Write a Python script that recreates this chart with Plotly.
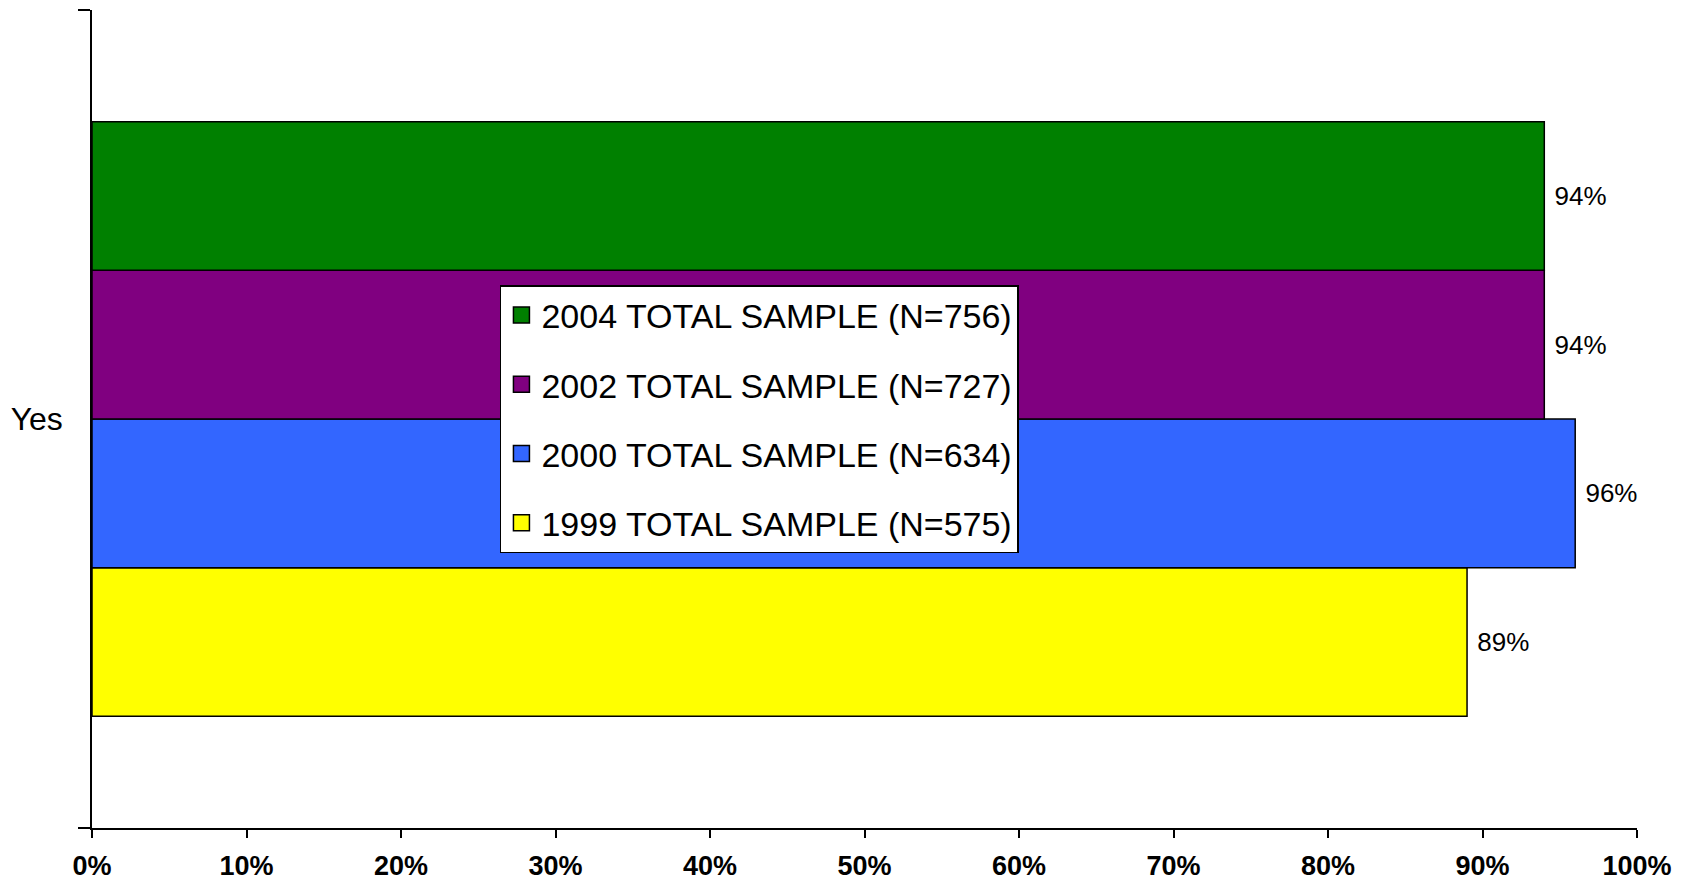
import plotly.graph_objects as go

categories = ["Yes"]
series_names = ["1999 TOTAL SAMPLE (N=575)", "2000 TOTAL SAMPLE (N=634)",
                "2002 TOTAL SAMPLE (N=727)", "2004 TOTAL SAMPLE (N=756)"]
series_values = [[0.89], [0.96], [0.94], [0.94]]
series_colors = ["#FFFF00", "#3366FF", "#800080", "#008000"]
x_tick_vals = [0, 0.1, 0.2, 0.3, 0.4, 0.5, 0.6, 0.7, 0.8, 0.9, 1.0]
x_tick_text = ["0%", "10%", "20%", "30%", "40%", "50%", "60%", "70%", "80%", "90%", "100%"]

FONT = "Arial, Liberation Sans, sans-serif"

fig = go.Figure()
for name, vals, col in zip(series_names, series_values, series_colors):
    fig.add_trace(go.Bar(
        y=categories, x=vals, orientation="h", name=name,
        marker=dict(color=col, line=dict(color="black", width=1.5)),
        text=[f" {v*100:.0f}%" for v in vals], textposition="outside",
        textfont=dict(family=FONT, size=26, color="black"),
        cliponaxis=False, showlegend=False,
    ))

# legend entries (top to bottom: 2004, 2002, 2000, 1999)
for name, col in reversed(list(zip(series_names, series_colors))):
    fig.add_trace(go.Scatter(
        x=[None], y=[None], mode="markers", name=name, legendgroup=name,
        marker=dict(symbol="square", size=16, color=col, line=dict(color="black", width=1.5)),
    ))

# the page body has an 8px margin, so the figure is drawn 8px smaller
fig.update_layout(
    width=1685, height=872,
    margin=dict(l=84, r=56, t=2, b=52),
    paper_bgcolor="white", plot_bgcolor="white",
    barmode="group", bargap=0.273, bargroupgap=0,
    font=dict(family=FONT, color="black"),
    legend=dict(
        x=0.432, xanchor="center", y=0.50, yanchor="middle",
        bgcolor="white", bordercolor="black", borderwidth=1.5,
        font=dict(family=FONT, size=34, color="black"),
        traceorder="grouped", tracegroupgap=22,
    ),
    xaxis=dict(
        range=[0, 1], tickvals=x_tick_vals, ticktext=x_tick_text,
        showgrid=False, zeroline=False, automargin=False,
        showline=True, linecolor="black", linewidth=2,
        ticks="outside", ticklen=8, tickwidth=1.5, tickcolor="black",
        tickfont=dict(family=FONT, size=27, color="black", weight="bold"),
        ticklabelstandoff=5,
    ),
    yaxis=dict(
        type="category", range=[-0.5, 0.5], automargin=False,
        showgrid=False, zeroline=False,
        showline=True, linecolor="black", linewidth=1.5,
        ticks="outside", ticklen=12, tickwidth=1.5, tickcolor="black",
        tickson="boundaries",
        tickfont=dict(family=FONT, size=32, color="black"),
        ticklabelstandoff=21,
    ),
)

fig.write_html("out.html")
